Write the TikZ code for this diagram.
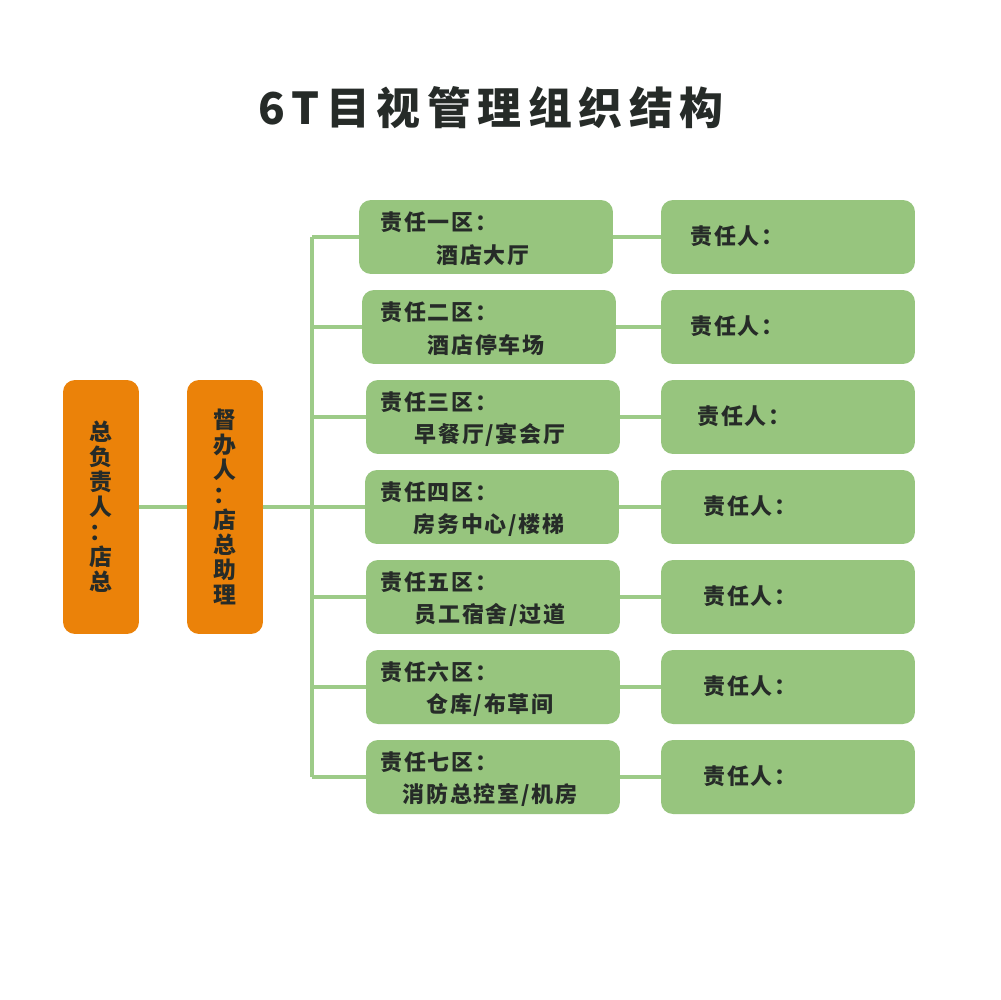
\documentclass[tikz,border=0pt]{standalone}
\usepackage{fontspec}
\setmainfont{Noto Sans CJK SC}

\definecolor{boxgreen}{HTML}{97C57E}
\definecolor{linegreen}{HTML}{9DCB88}
\definecolor{boxorange}{HTML}{EB8209}
\definecolor{textdark}{HTML}{262B28}

\begin{document}
\begin{tikzpicture}[
    x=0.02cm, y=-0.02cm,
    head/.style={rectangle, rounded corners=0.24cm, fill=boxorange, minimum width=1.52cm,
        minimum height=5.08cm, inner sep=0pt, align=center, text=textdark,
        font=\fontsize{13}{14.2}\selectfont\bfseries},
    zone/.style={rectangle, rounded corners=0.24cm, fill=boxgreen, minimum width=5.08cm,
        minimum height=1.48cm, inner sep=0pt},
    txt/.style={inner sep=0pt, text=textdark,
        font=\fontsize{12.5}{15}\selectfont\bfseries\addfontfeatures{LetterSpace=8}},
    link/.style={draw=linegreen, line width=2.3pt}
]

    \useasboundingbox[fill=white] (0,0) rectangle (1000,1000);

    % Title
    \node[text=textdark, font=\fontsize{25}{30}\selectfont\bfseries\addfontfeatures{LetterSpace=15}]
        (title) at (491,108) {6T目视管理组织结构};

    % Heads
    \node[head] (B) at (101,507) {总\\负\\责\\人\\：\\店\\总};
    \node[head] (M) at (225,507) {督\\办\\人\\：\\店\\总\\助\\理};

    % Zones
    \foreach \i/\y/\x/\n/\place in {1/237/486/一/酒店大厅, 2/327/489/二/酒店停车场,
            3/417/493/三/{早餐厅/宴会厅}, 4/507/492/四/{房务中心/楼梯},
            5/597/493/五/{员工宿舍/过道}, 6/687/493/六/{仓库/布草间},
            7/777/493/七/{消防总控室/机房}} {
        \node[zone] (Z\i) at (\x,\y) {};
        \node[txt, anchor=west] (ZA\i) at (380,\y-15) {责任\n 区：};
        \node[txt] (ZB\i) at (\x-3,\y+18) {\place};
    }

    % Owners
    \foreach \i/\y/\tx in {1/237/690, 2/327/690, 3/417/697, 4/507/703,
            5/597/703, 6/687/703, 7/777/703} {
        \node[zone] (R\i) at (788,\y) {};
        \node[txt, anchor=west] (RA\i) at (\tx,\y-1) {责任人：};
    }

    % Connections
    \coordinate (J) at (312,507);

    \draw[link] (B.east) -- (M.west);
    \draw[link] (M.east) -- (J);
    \draw[link] (J |- Z1.west) -- (J |- Z7.west);

    \foreach \i in {1,...,7} {
        \draw[link] (J |- Z\i.west) -- (Z\i.west);
        \draw[link] (Z\i.east) -- (R\i.west);
    }

\end{tikzpicture}
\end{document}
